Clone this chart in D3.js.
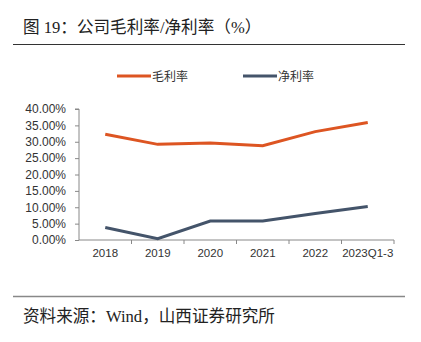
<!DOCTYPE html>
<html>
<head>
<meta charset="utf-8">
<script src="https://cdn.jsdelivr.net/npm/d3@7"></script>
<style>
body { margin: 0; background: #fff; }
svg { display: block; }
</style>
</head>
<body>
<svg id="chart" width="421" height="342"></svg>
<script>
var years = ["2018", "2019", "2020", "2021", "2022", "2023Q1-3"];
var grossMargin = [32.3, 29.2, 29.6, 28.8, 33.1, 35.9];
var netMargin = [3.8, 0.4, 5.8, 5.8, 8.1, 10.2];
var yTicks = [0, 5, 10, 15, 20, 25, 30, 35, 40];

var series = [
    { name: "毛利率", color: "#DD5522", values: grossMargin },
    { name: "净利率", color: "#44546A", values: netMargin }
];

const svg = d3.select("#chart");
var titleFont = "'Liberation Serif', 'Noto Sans CJK SC', serif";

// title + rules
svg.append("text")
    .attr("x", 23).attr("y", 32.5)
    .attr("font-family", titleFont)
    .attr("font-size", 16.6)
    .attr("fill", "#222")
    .text("图 19：公司毛利率/净利率（%）");
svg.append("line")
    .attr("x1", 13).attr("x2", 405).attr("y1", 44.5).attr("y2", 44.5)
    .attr("stroke", "#333").attr("stroke-width", 1);
svg.append("line")
    .attr("x1", 13).attr("x2", 405).attr("y1", 296.5).attr("y2", 296.5)
    .attr("stroke", "#888").attr("stroke-width", 1.5);
svg.append("text")
    .attr("x", 23).attr("y", 321.5)
    .attr("font-family", titleFont)
    .attr("font-size", 16.6)
    .attr("fill", "#222")
    .text("资料来源：Wind，山西证券研究所");

// scales
var x = d3.scaleBand().domain(years).range([79, 394]);
var y = d3.scaleLinear().domain([0, 40]).range([240, 109]);

// y axis
const gy = svg.append("g").attr("transform", "translate(79,0)")
    .call(d3.axisLeft(y).tickValues(yTicks).tickSize(4).tickPadding(9)
        .tickFormat(d => d.toFixed(2) + "%"));
gy.select(".domain").attr("stroke", "#888").attr("d", "M-4," + y(40) + "H0V" + y(0));
gy.selectAll(".tick line").attr("stroke", "#888");
gy.selectAll("text")
    .attr("font-family", "'Liberation Sans', Arial, sans-serif")
    .attr("font-size", 12).attr("fill", "#333");

// x axis
const gx = svg.append("g").attr("transform", "translate(0,240)")
    .call(d3.axisBottom(x).tickSize(0).tickPadding(9));
gx.select(".domain").attr("stroke", "#888").attr("d", "M79,0H394");
gx.selectAll("text")
    .attr("font-family", "'Liberation Sans', Arial, sans-serif")
    .attr("font-size", 11.5).attr("fill", "#333");
gx.selectAll(".sep")
    .data(years)
    .join("line")
    .attr("class", "sep")
    .attr("x1", d => x(d) + x.bandwidth())
    .attr("x2", d => x(d) + x.bandwidth())
    .attr("y1", 0).attr("y2", 4)
    .attr("stroke", "#888");

// lines
var line = d3.line()
    .x((d, i) => x(years[i]) + x.bandwidth() / 2)
    .y(d => y(d));

svg.append("g").selectAll("path")
    .data(series)
    .join("path")
    .attr("d", d => line(d.values))
    .attr("fill", "none")
    .attr("stroke", d => d.color)
    .attr("stroke-width", 3);

// legend
var legend = svg.append("g").selectAll("g")
    .data(series)
    .join("g")
    .attr("transform", (d, i) => "translate(" + (117 + i * 126) + ",76)");
legend.append("line")
    .attr("x1", 0).attr("x2", 34).attr("y1", 0).attr("y2", 0)
    .attr("stroke", d => d.color).attr("stroke-width", 3);
legend.append("text")
    .attr("x", 35).attr("y", 4.5)
    .attr("font-family", "'Noto Sans CJK SC', sans-serif")
    .attr("font-size", 12).attr("fill", "#333")
    .text(d => d.name);
</script>
</body>
</html>
